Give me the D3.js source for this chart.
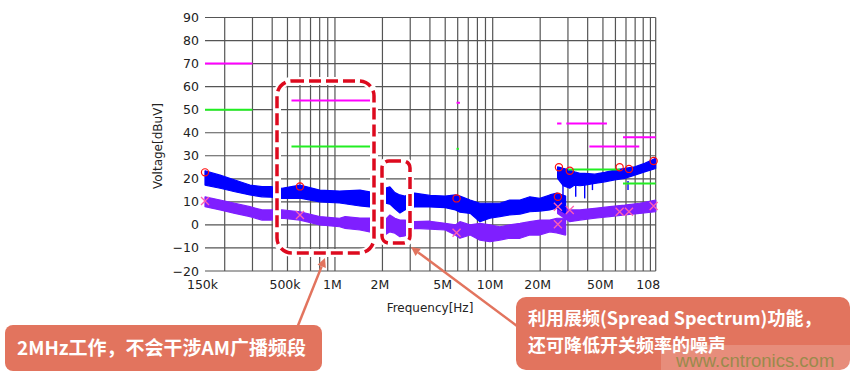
<!DOCTYPE html>
<html>
<head>
<meta charset="utf-8">
<script src="https://cdn.jsdelivr.net/npm/d3@7"></script>
<style>
  body { margin: 0; background: #fff; }
  svg { display: block; }
</style>
</head>
<body>
<svg id="chart" width="861" height="375"></svg>
<script>
// tick labels
const xTicks = [0.15, 0.5, 1, 2, 5, 10, 20, 50, 108];
const xTickLabels = ['150k', '500k', '1M', '2M', '5M', '10M', '20M', '50M', '108'];
const xGrid = [0.2, 0.3, 0.4, 0.5, 0.6, 0.7, 0.8, 0.9, 1, 2, 3, 4, 5, 6, 7, 8, 9, 10, 20, 30, 40, 50, 60, 70, 80, 90, 100, 108];
const yTicks = [-20, -10, 0, 10, 20, 30, 40, 50, 60, 70, 80, 90];

// peak trace (blue), below 29 MHz, freq in MHz, top / bottom of the noise band
const peakLowF   = [0.15, 0.187, 0.232, 0.289, 0.345, 0.393, 0.461, 0.60, 0.80, 1.07, 1.44, 1.66, 2.07, 2.23, 2.40, 2.58, 2.77, 3.2, 4.0, 5.0, 5.8, 6.2, 7.2, 8.3, 9.6, 11.1, 12.8, 14.9, 17.2, 19.9, 23.0, 25.5, 29.0];
const peakLowHi  = [23.5, 21.6, 19.5, 17.3, 16.6, 16.6, 15.9, 17.3, 15.1, 14.7, 15.1, 14.3, 15.9, 16.5, 14, 13, 12.5, 13.8, 12.8, 12.5, 13, 12.5, 10.8, 9.4, 9.4, 9.4, 10.8, 10.8, 12.2, 11.5, 13, 13.8, 12.5];
const peakLowLo  = [17.3, 15.9, 14.4, 13, 12.2, 12, 11.5, 11.6, 10, 9.5, 8.2, 7.8, 9.5, 9, 7, 5.2, 6.5, 7.8, 7.8, 7.5, 6.5, 5.5, 5, 1.4, 2.9, 3.6, 4.3, 4.7, 5.7, 6, 6.5, 7.3, 5];
// peak trace above 26 MHz
const peakHighF  = [25.8, 28, 30.8, 33.1, 35.7, 38.3, 44.4, 51.3, 59.3, 68.7, 79.5, 91.9, 108];
const peakHighHi = [25.2, 24.5, 23.8, 23, 22.4, 22.4, 22, 22.8, 23.8, 24.5, 25.2, 26.7, 28.9];
const peakHighLo = [20.2, 17, 15.9, 17.3, 17, 17.3, 18, 18.7, 19.5, 20.2, 21.6, 23, 24.5];
// downward spikes of the peak trace
const peakDipF   = [27.9, 30.0, 33.6, 38.3, 42.9, 72.1];
const peakDipV   = [13, 16, 12.2, 11.5, 15.1, 15.1];

// average trace (purple)
const avgLowF    = [0.15, 0.187, 0.232, 0.289, 0.345, 0.393, 0.461, 0.60, 0.80, 1.07, 1.16, 1.44, 1.66, 2.07, 2.23, 2.40, 2.58, 2.77, 3.2, 4.0, 5.0, 5.8, 6.2, 7.2, 8.3, 9.6, 11.1, 12.8, 14.9, 17.2, 19.9, 23.0, 25.5, 29.0];
const avgLowHi   = [12.2, 10.8, 9.4, 7.9, 6.5, 6.5, 6.5, 5.7, 3.6, 2.9, 3.6, 3, 3, 2.1, 4.3, 2.9, 2.1, 2.1, 1.4, 1.6, 0.7, 0, 1.4, 0, 0.7, 0, -0.8, 0, 0.7, 1.4, 2.1, 2.1, 2.9, 2.9];
const avgLowLo   = [7.9, 6.5, 5, 3.6, 2.1, 2.1, 2.9, 2.1, 0, -0.8, -1.5, -2.2, -3, -4.4, -3, -3.6, -5.1, -4.8, -1.5, -1.8, -2.2, -4.4, -5.8, -4.4, -6.6, -7.3, -6.6, -5.8, -5.8, -4.4, -4.4, -3, -3.5, -4.4];
const avgHighF   = [25.8, 30.8, 35.7, 44.4, 55.2, 68.7, 85.5, 108];
const avgHighHi  = [10, 6.5, 6.5, 7.2, 7.9, 8.6, 9.4, 10.8];
const avgHighLo  = [5, 1.4, 2.1, 2.9, 3.6, 4.3, 5, 5.7];

// markers
const peakMarkF  = [0.15, 0.6, 5.9, 25.9, 26.3, 30.8, 63.8, 73.1, 104.8];
const peakMarkV  = [22.8, 16.7, 11.5, 12.2, 25, 23.5, 25, 24.3, 27.7];
const avgMarkF   = [0.15, 0.6, 5.9, 25.9, 25.9, 30.8, 63.8, 73.1, 104.8];
const avgMarkV   = [10.4, 4.3, -3.4, 7.9, 0.3, 6.5, 5.7, 5.7, 8.2];

// limit lines [fStart, fEnd, level]
const peakLimits = [[0.15, 0.3, 70], [0.53, 1.7, 54], [5.9, 6.2, 53], [25.6, 27.3, 44], [29.3, 53, 44], [41, 85, 34], [67, 108, 38]];
const avgLimits  = [[0.15, 0.3, 50], [0.53, 1.7, 34], [5.9, 6.1, 33], [30, 64, 24], [67, 108, 18]];

const svg = d3.select('#chart');
const margin = {top: 17.5, left: 205, right: 205.3, bottom: 104};
const width = +svg.attr('width');
const height = +svg.attr('height');

const x = d3.scaleLog().domain([0.15, 108]).range([margin.left, width - margin.right]);
const y = d3.scaleLinear().domain([-20, 90]).range([height - margin.bottom, margin.top]);

const font = 'DejaVu Sans, sans-serif';

// grid
const grid = svg.append('g').attr('stroke', '#555').attr('stroke-width', 1.2);
grid.selectAll('.gx').data(xGrid).enter().append('line')
  .attr('x1', d => x(d)).attr('x2', d => x(d))
  .attr('y1', y(-20)).attr('y2', y(90));
grid.selectAll('.gy').data(yTicks).enter().append('line')
  .attr('x1', x(0.15)).attr('x2', x(108))
  .attr('y1', d => y(d)).attr('y2', d => y(d));

// axes (labels only, the grid does the rest)
const yAxis = svg.append('g')
  .attr('transform', `translate(${x(0.15)},0)`)
  .call(d3.axisLeft(y).tickValues(yTicks).tickSize(0).tickPadding(6));
const xAxis = svg.append('g')
  .attr('transform', `translate(0,${y(-20)})`)
  .call(d3.axisBottom(x).tickValues(xTicks).tickSize(0).tickPadding(9)
    .tickFormat((d, i) => xTickLabels[i]));
[xAxis, yAxis].forEach(a => {
  a.select('.domain').remove();
  a.selectAll('text').style('font-family', font).style('font-size', '12.5px').attr('fill', '#222');
});
xAxis.selectAll('text').attr('dx', (d, i) => i === xTicks.length - 1 ? -8 : -3);

svg.append('text')
  .attr('x', 430).attr('y', 312)
  .attr('text-anchor', 'middle')
  .style('font-family', font).style('font-size', '12px').attr('fill', '#222')
  .text('Frequency[Hz]');
svg.append('text')
  .attr('transform', 'translate(162,146) rotate(-90)')
  .attr('text-anchor', 'middle')
  .style('font-family', font).style('font-size', '12px').attr('fill', '#222')
  .text('Voltage[dBuV]');

// noise bands
function band(fs, his, los) {
  return fs.map((f, i) => ({f: f, hi: his[i], lo: los[i]}));
}
const area = d3.area().x(d => x(d.f)).y0(d => y(d.lo)).y1(d => y(d.hi));
const traces = [
  {rows: band(avgLowF, avgLowHi, avgLowLo), color: '#7f1fff'},
  {rows: band(avgHighF, avgHighHi, avgHighLo), color: '#7f1fff'},
  {rows: band(peakLowF, peakLowHi, peakLowLo), color: '#0000ff'},
  {rows: band(peakHighF, peakHighHi, peakHighLo), color: '#0000ff'}
];
svg.selectAll('.trace').data(traces).enter().append('path')
  .attr('class', 'trace')
  .attr('d', d => area(d.rows))
  .attr('fill', d => d.color)
  .attr('stroke', d => d.color)
  .attr('stroke-width', 1.2)
  .attr('stroke-linejoin', 'bevel');

svg.selectAll('.dip').data(peakDipF).enter().append('line')
  .attr('x1', d => x(d)).attr('x2', d => x(d))
  .attr('y1', y(19)).attr('y2', (d, i) => y(peakDipV[i]))
  .attr('stroke', '#0000ff').attr('stroke-width', 1.4);

// limit lines
svg.selectAll('.limP').data(peakLimits).enter().append('line')
  .attr('x1', d => x(d[0])).attr('x2', d => x(d[1]))
  .attr('y1', d => y(d[2])).attr('y2', d => y(d[2]))
  .attr('stroke', '#ff00ff').attr('stroke-width', 2);
svg.selectAll('.limA').data(avgLimits).enter().append('line')
  .attr('x1', d => x(d[0])).attr('x2', d => x(d[1]))
  .attr('y1', d => y(d[2])).attr('y2', d => y(d[2]))
  .attr('stroke', '#22ee22').attr('stroke-width', 2);

// markers
svg.selectAll('.pm').data(peakMarkF).enter().append('circle')
  .attr('cx', d => x(d)).attr('cy', (d, i) => y(peakMarkV[i]))
  .attr('r', 3.6).attr('fill', 'none').attr('stroke', '#ff1010').attr('stroke-width', 1.2);
svg.selectAll('.am').data(avgMarkF).enter().append('path')
  .attr('transform', (d, i) => `translate(${x(d)},${y(avgMarkV[i])})`)
  .attr('d', 'M-4,-4L4,4M-4,4L4,-4')
  .attr('stroke', '#ff5fb0').attr('stroke-width', 1.3);

// dashed callout boxes
const boxes = [
  {x: 277, y: 81, w: 97, h: 172, r: 15},
  {x: 382, y: 161, w: 28, h: 82, r: 7}
];
svg.selectAll('.halo').data(boxes).enter().append('rect')
  .attr('x', d => d.x).attr('y', d => d.y).attr('width', d => d.w).attr('height', d => d.h)
  .attr('rx', d => d.r)
  .attr('fill', 'none').attr('stroke', '#fff').attr('stroke-width', 8);
svg.selectAll('.dbox').data(boxes).enter().append('rect')
  .attr('x', d => d.x).attr('y', d => d.y).attr('width', d => d.w).attr('height', d => d.h)
  .attr('rx', d => d.r)
  .attr('fill', 'none').attr('stroke', '#dd0a1e').attr('stroke-width', 3.5)
  .attr('stroke-dasharray', '12,5');

// arrows
const calloutColor = '#e2745e';
const arrows = [
  {x1: 297, y1: 328, x2: 325, y2: 258},
  {x1: 517, y1: 326, x2: 411, y2: 247}
];
arrows.forEach(a => {
  const ang = Math.atan2(a.y2 - a.y1, a.x2 - a.x1);
  const len = 9, half = 4.5;
  const bx = a.x2 - len * Math.cos(ang), by = a.y2 - len * Math.sin(ang);
  svg.append('line')
    .attr('x1', a.x1).attr('y1', a.y1).attr('x2', bx).attr('y2', by)
    .attr('stroke', calloutColor).attr('stroke-width', 2.5);
  svg.append('path')
    .attr('d', `M${a.x2},${a.y2}L${bx - half * Math.sin(ang)},${by + half * Math.cos(ang)}L${bx + half * Math.sin(ang)},${by - half * Math.cos(ang)}Z`)
    .attr('fill', calloutColor);
});

// callouts
const cjk = '"Noto Sans CJK SC", sans-serif';
svg.append('rect').attr('x', 5).attr('y', 325).attr('width', 317).attr('height', 46)
  .attr('rx', 8).attr('fill', calloutColor);
svg.append('text').attr('x', 17).attr('y', 355)
  .style('font-family', cjk).style('font-size', '19px').style('font-weight', 'bold')
  .attr('fill', '#fff')
  .text('2MHz工作，不会干涉AM广播频段');

svg.append('rect').attr('x', 516).attr('y', 297).attr('width', 334).attr('height', 73)
  .attr('rx', 10).attr('fill', calloutColor);
svg.append('text').attr('x', 528).attr('y', 325)
  .style('font-family', cjk).style('font-size', '18px').style('font-weight', 'bold')
  .attr('fill', '#fff')
  .text('利用展频(Spread Spectrum)功能，');
svg.append('text').attr('x', 528).attr('y', 352)
  .style('font-family', cjk).style('font-size', '18px').style('font-weight', 'bold')
  .attr('fill', '#fff')
  .text('还可降低开关频率的噪声');

// watermark
svg.append('rect').attr('x', 661).attr('y', 345).attr('width', 189).attr('height', 25)
  .attr('fill', '#fff').attr('fill-opacity', 0.18);
svg.append('text').attr('x', 676).attr('y', 367)
  .style('font-family', 'Liberation Sans, Arial, sans-serif').style('font-size', '18.5px')
  .attr('fill', '#9a8a4c')
  .text('www.cntronics.com');
</script>
</body>
</html>
